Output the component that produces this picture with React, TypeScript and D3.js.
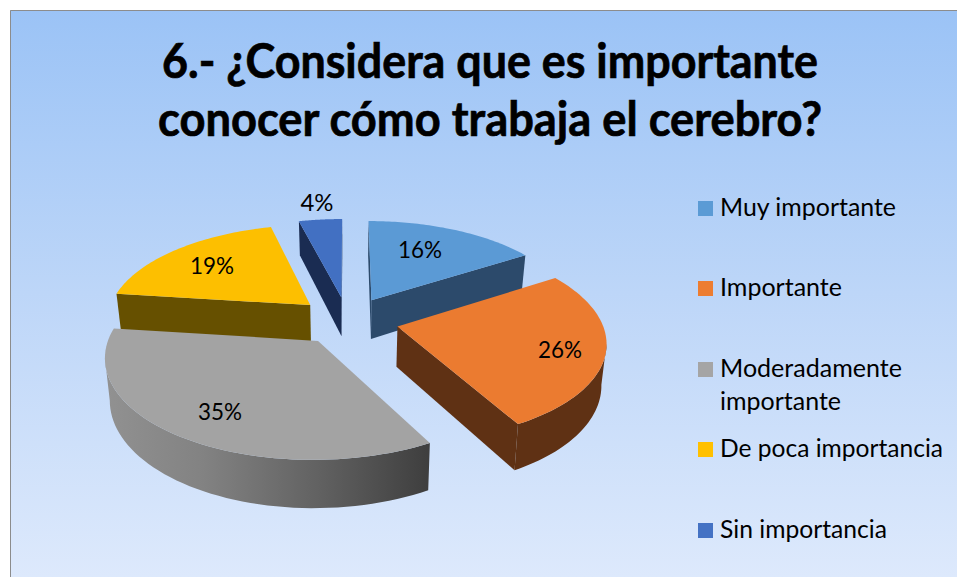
import React from "react";
import * as d3 from "d3";

const titleLines = ["6.- ¿Considera que es importante", "conocer cómo trabaja el cerebro?"];
const categories = ["Muy importante", "Importante", "Moderadamente importante", "De poca importancia", "Sin importancia"];
const values = [16, 26, 35, 19, 4];
const topColors = ["#5B9AD5", "#EB7B30", "#A3A3A3", "#FDBF00", "#4270C2"];
const wallColors = ["#2C4A6B", "#5F3114", "url(#grayWall)", "#665000", "#1A2C52"];
const legendColors = ["#5B9BD5", "#ED7D31", "#A5A5A5", "#FFC000", "#4472C4"];

const legendLines = [["Muy importante"], ["Importante"], ["Moderadamente", "importante"], ["De poca importancia"], ["Sin importancia"]];
const legendWidths = [[176], [122], [182, 121], [223], [167]];
const legendY = [201, 281, 362, 442, 523];
const labelX = [420, 560, 220, 212, 317];
const labelY = [258, 358, 420, 274, 211];
const drawOrder = [4, 0, 3, 1, 2];

// Projection of the tilted pie
const cx = 347.6, cy = 320.5, R = 204, K = 95.7, P = 0.142, EXPLODE = 0.25, DEPTH = 40, SHRINK = 0.98;
const font = "Lato, Carlito, Calibri, sans-serif";

type Pt = [number, number];
const top = (u: number, v: number): Pt => {
  const w = 1 + P * v;
  return [cx + (R * u) / w, cy - (K * v) / w];
};
const bottom = (u: number, v: number): Pt => {
  const w = 1 + P * v;
  return [cx + (SHRINK * R * u) / w, cy - (K * v) / w + DEPTH / w];
};

const arcs = d3.pie<number>().sort(null).value((d) => d).startAngle(0).endAngle(2 * Math.PI)(values);
const line = d3.line<Pt>().curve(d3.curveLinear);
const close = (pts: Pt[]) => (line(pts) as string) + "Z";

function slice(i: number) {
  const a = arcs[i];
  const mid = (a.startAngle + a.endAngle) / 2;
  const au = EXPLODE * Math.sin(mid), av = EXPLODE * Math.cos(mid);
  const thetas = d3.range(0, 61).map((k) => a.startAngle + ((a.endAngle - a.startAngle) * k) / 60);
  const rim = thetas.map((t) => [au + Math.sin(t), av + Math.cos(t)] as Pt);
  const rimTop = rim.map((p) => top(p[0], p[1]));
  const rimBot = rim.map((p) => bottom(p[0], p[1]));
  const apexTop = top(au, av), apexBot = bottom(au, av);
  const walls: string[] = [];
  if (rimTop[0][0] < apexTop[0]) walls.push(close([apexTop, rimTop[0], rimBot[0], apexBot]));
  if (apexTop[0] < rimTop[60][0]) walls.push(close([rimTop[60], apexTop, apexBot, rimBot[60]]));
  const idx = d3.range(0, 60).filter((k) => rimTop[k + 1][0] < rimTop[k][0]);
  if (idx.length) {
    const from = idx[0], to = idx[idx.length - 1] + 1;
    walls.push(close([...rimTop.slice(from, to + 1), ...rimBot.slice(from, to + 1).reverse()]));
  }
  return { walls, face: close([apexTop, ...rimTop]) };
}

export default function App() {
  return (
    <svg width={957} height={577} style={{ position: "absolute", left: 0, top: 0, display: "block" }}>
      <defs>
        <linearGradient id="bg" x1="0" y1="0" x2="0" y2="1">
          <stop offset="0" stopColor="#9BC3F6" />
          <stop offset="0.5" stopColor="#BDD6F8" />
          <stop offset="1" stopColor="#DDE9FC" />
        </linearGradient>
        <linearGradient id="grayWall" gradientUnits="userSpaceOnUse" x1="107" y1="0" x2="430" y2="0">
          <stop offset="0" stopColor="#919191" />
          <stop offset="0.3" stopColor="#828282" />
          <stop offset="0.65" stopColor="#626262" />
          <stop offset="1" stopColor="#3E3E3E" />
        </linearGradient>
      </defs>
      <rect x={0} y={0} width={957} height={577} fill="#FFFFFF" />
      <rect x={10} y={10} width={947} height={567} fill="url(#bg)" />
      <path d="M10.5,577V10.5H957" fill="none" stroke="#8C8C8C" strokeWidth={1} />

      <g fontFamily={font} fontWeight={700} fontSize={47} fill="#000" stroke="#000" strokeWidth={0.7} textAnchor="middle">
        {titleLines.map((t, i) => (
          <text key={t} x={490} y={78 + i * 57.5} textLength={i === 0 ? 656 : 664} lengthAdjust="spacingAndGlyphs">{t}</text>
        ))}
      </g>

      {drawOrder.map((i) => {
        const s = slice(i);
        return (
          <g key={categories[i]}>
            {s.walls.map((d, k) => <path key={k} d={d} fill={wallColors[i]} />)}
            <path d={s.face} fill={topColors[i]} />
          </g>
        );
      })}

      <g fontFamily={font} fontSize={24} fill="#000" textAnchor="middle">
        {values.map((v, i) => (
          <text key={i} x={labelX[i]} y={labelY[i]} textLength={v < 10 ? 33 : 44} lengthAdjust="spacingAndGlyphs">{v}%</text>
        ))}
      </g>

      <g fontFamily={font} fontSize={24.5} fill="#000">
        {categories.map((c, i) => (
          <g key={c}>
            <rect x={698} y={legendY[i]} width={15} height={15} fill={legendColors[i]} />
            {legendLines[i].map((t, k) => (
              <text key={t} x={720} y={legendY[i] + 15 + k * 33} textLength={legendWidths[i][k]} lengthAdjust="spacingAndGlyphs">{t}</text>
            ))}
          </g>
        ))}
      </g>
    </svg>
  );
}
